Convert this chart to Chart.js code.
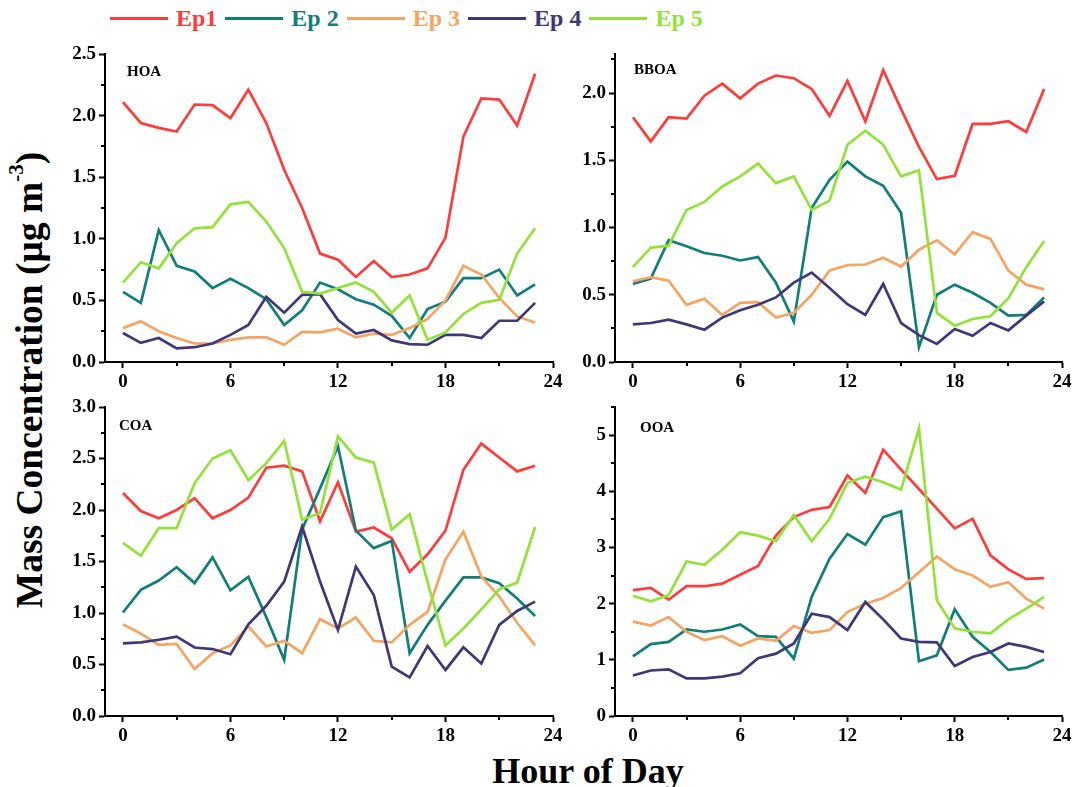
<!DOCTYPE html>
<html>
<head>
<meta charset="utf-8">
<script src="https://cdn.jsdelivr.net/npm/chart.js@4.4.1/dist/chart.umd.min.js"></script>
<style>
html,body{margin:0;padding:0;background:#fff;width:1072px;height:787px;overflow:hidden;}
body{position:relative;font-family:'Liberation Serif','Times New Roman',serif;}
.panel{position:absolute;}
.panel canvas{display:block;}
.plabel{position:absolute;font-weight:bold;font-size:15px;line-height:15px;color:#000;white-space:nowrap;}
#legend{position:absolute;left:110px;top:3px;height:30px;display:flex;align-items:center;}
#legend .ln{display:inline-block;width:58px;height:3px;margin-right:8px;}
#legend .tx{font-weight:bold;font-size:24px;line-height:30px;margin-right:8px;white-space:nowrap;}
#ylab{position:absolute;left:30px;top:380px;transform:translate(-50%,-50%) rotate(-90deg);white-space:nowrap;font-weight:bold;font-size:37.5px;line-height:40px;color:#000;}
#ylab sup{font-size:21px;line-height:0;vertical-align:0.9em;}
#xlab{position:absolute;left:388px;width:400px;top:753px;text-align:center;font-weight:bold;font-size:36px;line-height:36px;color:#000;}
</style>
</head>
<body>
<div id="legend"></div>
<div id="ylab">Mass Concentration (μg m<sup>-3</sup>)</div>
<div id="xlab">Hour of Day</div>
<script>
// ---------- data ----------
const hours = [0,1,2,3,4,5,6,7,8,9,10,11,12,13,14,15,16,17,18,19,20,21,22,23];
const seriesNames  = ['Ep1','Ep 2','Ep 3','Ep 4','Ep 5'];
const seriesColors = ['#FF3B3B','#127E7A','#F5A462','#3E3878','#92E23A'];
const xTickValues = [0,6,12,18,24];
const xMinorTicks = [3,9,15,21];

const hoaEp1 = [2.11,1.94,1.90,1.87,2.09,2.085,1.98,2.21,1.94,1.56,1.25,0.88,0.83,0.69,0.82,0.69,0.71,0.76,1.01,1.83,2.14,2.13,1.92,2.34];
const hoaEp2 = [0.57,0.48,1.07,0.78,0.735,0.60,0.675,0.60,0.51,0.30,0.42,0.645,0.59,0.51,0.465,0.375,0.195,0.43,0.49,0.68,0.68,0.75,0.54,0.63];
const hoaEp3 = [0.275,0.33,0.25,0.195,0.15,0.15,0.18,0.20,0.20,0.14,0.245,0.24,0.27,0.20,0.23,0.22,0.275,0.35,0.50,0.78,0.71,0.52,0.37,0.32];
const hoaEp4 = [0.235,0.155,0.195,0.11,0.12,0.15,0.22,0.30,0.53,0.40,0.545,0.55,0.34,0.23,0.26,0.175,0.145,0.14,0.22,0.22,0.195,0.335,0.335,0.48];
const hoaEp5 = [0.645,0.81,0.76,0.965,1.085,1.095,1.28,1.30,1.14,0.925,0.57,0.555,0.60,0.645,0.57,0.40,0.54,0.18,0.24,0.39,0.48,0.505,0.88,1.085];

const bboaEp1 = [1.82,1.64,1.82,1.81,1.98,2.07,1.96,2.07,2.13,2.11,2.03,1.83,2.09,1.79,2.17,1.88,1.60,1.36,1.385,1.77,1.77,1.79,1.71,2.03];
const bboaEp2 = [0.58,0.62,0.905,0.86,0.81,0.79,0.755,0.78,0.59,0.30,1.145,1.355,1.49,1.38,1.31,1.11,0.11,0.50,0.575,0.515,0.44,0.345,0.35,0.48];
const bboaEp3 = [0.60,0.63,0.605,0.425,0.47,0.35,0.44,0.445,0.33,0.365,0.50,0.68,0.72,0.725,0.775,0.71,0.835,0.905,0.80,0.965,0.915,0.68,0.575,0.54];
const bboaEp4 = [0.28,0.29,0.315,0.28,0.24,0.33,0.385,0.425,0.48,0.59,0.665,0.55,0.43,0.35,0.58,0.29,0.20,0.135,0.245,0.195,0.29,0.235,0.345,0.45];
const bboaEp5 = [0.705,0.85,0.865,1.13,1.19,1.305,1.38,1.475,1.33,1.38,1.13,1.20,1.615,1.72,1.615,1.38,1.425,0.365,0.27,0.32,0.34,0.475,0.705,0.90];

const coaEp1 = [2.165,1.99,1.92,2.00,2.115,1.92,2.00,2.12,2.41,2.43,2.375,1.89,2.27,1.79,1.83,1.725,1.40,1.57,1.80,2.39,2.645,2.51,2.375,2.43];
const coaEp2 = [1.005,1.225,1.315,1.445,1.29,1.54,1.22,1.35,0.96,0.545,1.81,2.21,2.62,1.80,1.63,1.70,0.61,0.885,1.12,1.345,1.345,1.29,1.14,0.97];
const coaEp3 = [0.89,0.80,0.69,0.70,0.457,0.61,0.685,0.87,0.675,0.73,0.61,0.94,0.85,0.955,0.73,0.715,0.885,1.01,1.52,1.79,1.355,1.16,0.905,0.685];
const coaEp4 = [0.705,0.715,0.74,0.77,0.665,0.65,0.60,0.89,1.07,1.305,1.84,1.305,0.835,1.45,1.175,0.48,0.375,0.68,0.447,0.667,0.51,0.885,1.02,1.11];
const coaEp5 = [1.68,1.555,1.825,1.825,2.26,2.50,2.58,2.29,2.455,2.67,1.905,1.97,2.715,2.51,2.46,1.81,1.96,1.30,0.685,0.85,1.035,1.23,1.295,1.835];

const ooaEp1 = [2.24,2.28,2.07,2.31,2.31,2.355,2.515,2.67,3.21,3.54,3.67,3.72,4.28,3.97,4.74,4.385,4.04,3.69,3.34,3.51,2.86,2.61,2.44,2.455];
const ooaEp2 = [1.06,1.28,1.32,1.54,1.50,1.54,1.63,1.42,1.41,1.02,2.12,2.80,3.24,3.05,3.54,3.645,0.975,1.08,1.90,1.41,1.14,0.82,0.86,1.005];
const ooaEp3 = [1.68,1.61,1.76,1.50,1.35,1.42,1.25,1.38,1.34,1.60,1.48,1.53,1.85,2.00,2.10,2.28,2.56,2.84,2.61,2.50,2.30,2.38,2.09,1.91];
const ooaEp4 = [0.72,0.81,0.83,0.67,0.67,0.70,0.76,1.03,1.11,1.29,1.82,1.76,1.53,2.03,1.72,1.38,1.32,1.31,0.89,1.05,1.14,1.29,1.23,1.14];
const ooaEp5 = [2.14,2.04,2.15,2.75,2.69,2.96,3.27,3.21,3.11,3.58,3.11,3.51,4.15,4.26,4.16,4.03,5.12,2.06,1.56,1.50,1.47,1.72,1.91,2.12];

// ---------- panel layout ----------
const panels = [
  {name:'HOA',  series:[hoaEp1,hoaEp2,hoaEp3,hoaEp4,hoaEp5],       yMax:2.5,  yStep:0.5, yDec:1, left:40,  top:40,  w:523, h:362, lx:127, ly:64},
  {name:'BBOA', series:[bboaEp1,bboaEp2,bboaEp3,bboaEp4,bboaEp5],  yMax:2.29, yStep:0.5, yDec:1, left:550, top:40,  w:522, h:362, lx:634, ly:62},
  {name:'COA',  series:[coaEp1,coaEp2,coaEp3,coaEp4,coaEp5],       yMax:3.0,  yStep:0.5, yDec:1, left:40,  top:393, w:523, h:363, lx:119, ly:418},
  {name:'OOA',  series:[ooaEp1,ooaEp2,ooaEp3,ooaEp4,ooaEp5],       yMax:5.5,  yStep:1,   yDec:0, left:550, top:393, w:522, h:363, lx:640, ly:420}
];

// legend
const legend = document.getElementById('legend');
seriesNames.forEach((n,i)=>{
  const ln = document.createElement('span'); ln.className='ln'; ln.style.background=seriesColors[i];
  const tx = document.createElement('span'); tx.className='tx'; tx.style.color=seriesColors[i]; tx.textContent=n;
  legend.appendChild(ln); legend.appendChild(tx);
});

// minor ticks plugin
const minorTicks = {
  id:'minorTicks',
  afterDraw(chart, args, opts){
    const ctx = chart.ctx, xs = chart.scales.x, ys = chart.scales.y;
    ctx.save();
    ctx.strokeStyle = '#000'; ctx.lineWidth = 2;
    ctx.beginPath();
    (opts.x||[]).forEach(v=>{
      const px = Math.round(xs.getPixelForValue(v));
      ctx.moveTo(px, xs.top); ctx.lineTo(px, xs.top+4);
    });
    (opts.y||[]).forEach(v=>{
      const py = Math.round(ys.getPixelForValue(v));
      ctx.moveTo(ys.right-4, py); ctx.lineTo(ys.right, py);
    });
    ctx.stroke();
    ctx.restore();
  }
};

const tickFont = {family:"'Liberation Serif','Times New Roman',serif", weight:'bold', size:19};

panels.forEach(p=>{
  const div = document.createElement('div');
  div.className='panel';
  div.style.left=p.left+'px'; div.style.top=p.top+'px';
  div.style.width=p.w+'px'; div.style.height=p.h+'px';
  const cv = document.createElement('canvas');
  cv.width=p.w; cv.height=p.h; cv.style.width=p.w+'px'; cv.style.height=p.h+'px';
  div.appendChild(cv);
  document.body.appendChild(div);

  const lab = document.createElement('div');
  lab.className='plabel'; lab.textContent=p.name;
  lab.style.left=p.lx+'px'; lab.style.top=p.ly+'px';
  document.body.appendChild(lab);

  const yMinor = [];
  for(let v=p.yStep/2; v<=p.yMax+1e-9; v+=p.yStep) yMinor.push(v);

  new Chart(cv, {
    type:'line',
    data:{
      datasets: p.series.map((s,i)=>({
        label: seriesNames[i],
        data: hours.map((hr,k)=>({x:hr, y:s[k]})),
        borderColor: seriesColors[i],
        backgroundColor: seriesColors[i],
        borderWidth: 2.7,
        pointRadius: 0,
        tension: 0,
        fill: false,
        order: seriesNames.length-1-i
      }))
    },
    options:{
      responsive:false,
      animation:false,
      devicePixelRatio:1,
      layout:{padding:{top:14,right:10,left:0,bottom:0}},
      plugins:{
        legend:{display:false},
        tooltip:{enabled:false},
        minorTicks:{x:xMinorTicks, y:yMinor}
      },
      scales:{
        x:{
          type:'linear', min:-1, max:24,
          afterBuildTicks(s){ s.ticks = xTickValues.map(v=>({value:v})); },
          ticks:{color:'#000', font:tickFont, padding:3, maxRotation:0, autoSkip:false, callback:v=>String(v)},
          grid:{display:true, drawOnChartArea:false, drawTicks:true, tickLength:6, tickWidth:2, tickColor:'#000'},
          border:{display:true, color:'#000', width:2},
          afterFit(s){ s.height=40; s.paddingLeft=0; s.paddingRight=0; }
        },
        y:{
          type:'linear', min:0, max:p.yMax,
          ticks:{stepSize:p.yStep, includeBounds:false, color:'#000', font:tickFont, padding:3, callback:v=>Number(v).toFixed(p.yDec)},
          grid:{display:true, drawOnChartArea:false, drawTicks:true, tickLength:6, tickWidth:2, tickColor:'#000'},
          border:{display:true, color:'#000', width:2},
          afterFit(s){ s.width=65; s.paddingTop=0; s.paddingBottom=0; }
        }
      }
    },
    plugins:[minorTicks]
  });
});
</script>
</body>
</html>
